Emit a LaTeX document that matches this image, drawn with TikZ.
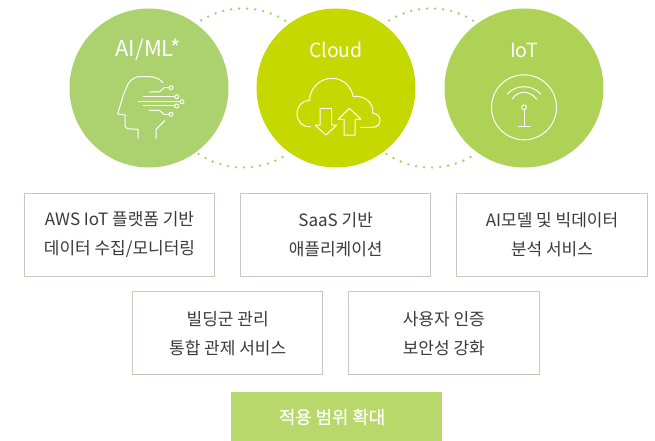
\documentclass[tikz,border=0pt]{standalone}
\usepackage{fontspec}
\setmainfont{Noto Sans CJK KR}
\newfontfamily\barfont[FakeBold=0.4]{Noto Sans CJK KR}
\definecolor{aigreen}{HTML}{ACD270}
\definecolor{cloudgreen}{HTML}{C5D900}
\definecolor{iotgreen}{HTML}{AED256}
\definecolor{dotgreen}{HTML}{A9D06C}
\definecolor{barx}{HTML}{B9D86C}
\definecolor{boxline}{HTML}{CBC7C0}
\definecolor{inktext}{HTML}{3A3A3A}
\tikzset{
  x=1pt,y=-1pt,
  bigc/.style={circle,minimum size=159pt,inner sep=0pt},
  ctitle/.style={text=white,font=\fontsize{19.5}{22}\selectfont,inner sep=0pt},
  infobox/.style={draw=boxline,line width=1pt,minimum width=190.4pt,minimum height=82.8pt,inner sep=0pt,align=center,text=inktext,font=\fontsize{17}{29}\selectfont},
  icon/.style={draw=white,line width=1pt,line join=round,line cap=round},
  dotp/.style={fill=dotgreen,draw=none}
}
\begin{document}
\begin{tikzpicture}
\useasboundingbox (0,0) rectangle (655,441);
% dotted links
\foreach \cx in {243,431}{
  \foreach \a in {58,63.8,...,125}{\fill[dotp] ({\cx+79.5*cos(\a)},{88-79.5*sin(\a)}) circle (1.35pt);}
  \foreach \a in {-124,-118.2,...,-55}{\fill[dotp] ({\cx+79.5*cos(\a)},{88-79.5*sin(\a)}) circle (1.35pt);}
}
\node[bigc,fill=aigreen] (ai) at (149,88) {};
\node[bigc,fill=cloudgreen] (cloud) at (336,88) {};
\node[bigc,fill=iotgreen] (iot) at (524,88) {};
\node[ctitle,font=\fontsize{22}{24}\selectfont] (tai) at (148,50) {AI/ML*};
\node[ctitle] (tcloud) at (336,50) {Cloud};
\node[ctitle] (tiot) at (524,50) {IoT};
% head icon
\draw[icon] (138,138.7) -- (138,129.3) -- (127.3,128.7) -- (125,126) -- (125,115) -- (117.7,114) -- (123.3,95) -- (128.3,83.3) .. controls (132,79) and (134,77.5) .. (138.3,76.7) -- (150,76.7) .. controls (156,77) and (160,79) .. (162.7,82.7);
\draw[icon] (156,138.7) -- (156,129.3) -- (164.7,120.7);
\draw[icon] (149.3,92) -- (159.3,92) -- (164,87.7) -- (169,87.7);
\draw[icon] (143.3,96.7) -- (174.7,96.7);
\draw[icon] (138.3,101.7) -- (179.7,101.7);
\draw[icon] (143.3,106) -- (174.7,106);
\draw[icon] (149.3,110.3) -- (159.3,110.3) -- (164,114.3) -- (169,114.3);
\foreach \p in {(171,87.7),(176.7,96.7),(182,101.7),(176.7,106),(171,114.3)} \draw[icon] \p circle (2pt);
% cloud icon
\draw[icon] (310.7,126.7) .. controls (302,127) and (297,121) .. (297,113.5) .. controls (297,106) and (303,100) .. (309.3,100.5) .. controls (310,88) and (320,78.3) .. (331.7,78.3) .. controls (343,78.3) and (351,86) .. (353.3,96.7) .. controls (364,94.5) and (374,103) .. (372.7,113) .. controls (378,114) and (380,117) .. (380,120) .. controls (380,124.5) and (377,127.3) .. (373,127.3) -- (360.7,127.3);
\draw[icon] (320,108.3) -- (331.7,108.3) -- (331.7,125) -- (336.7,125) -- (326,135) -- (315,125) -- (320,125) -- cycle;
\draw[icon] (344,135) -- (355,135) -- (355,119.3) -- (361,119.3) -- (349.3,108.3) -- (338.3,119.3) -- (344,119.3) -- cycle;
% iot icon
\draw[icon] (524,107.3) circle (32.5pt);
\draw[icon] (507.3,94) .. controls (512,89) and (518,86.7) .. (524,86.7) .. controls (530,86.7) and (536,89) .. (540.7,94);
\draw[icon] (512.3,99) .. controls (515,94.5) and (520,92.3) .. (524,92.3) .. controls (528,92.3) and (533,94.5) .. (536.7,99);
\draw[icon] (524,107.3) circle (2.4pt);
\draw[icon] (524,109.7) -- (524,126.7);
\draw[icon] (518.3,126.7) -- (530,126.7);
% boxes
\node[infobox] (b1) at (119.5,234.8) {AWS IoT 플랫폼 기반\\데이터 수집/모니터링};
\node[infobox] (b2) at (335.7,234.8) {SaaS 기반\\애플리케이션};
\node[infobox] (b3) at (552,234.8) {AI모델 및 빅데이터\\분석 서비스};
\node[infobox] (b4) at (227.7,333.3) {빌딩군 관리\\통합 관제 서비스};
\node[infobox] (b5) at (443.8,333.3) {사용자 인증\\보안성 강화};
\node[fill=barx,minimum width=210.5pt,minimum height=50pt,inner sep=0pt] (bar) at (336.3,416.5) {};
\node[text=white,font=\fontsize{17.8}{20}\selectfont\barfont,inner sep=0pt] (bartext) at (332,417) {적용 범위 확대};
\end{tikzpicture}
\end{document}
